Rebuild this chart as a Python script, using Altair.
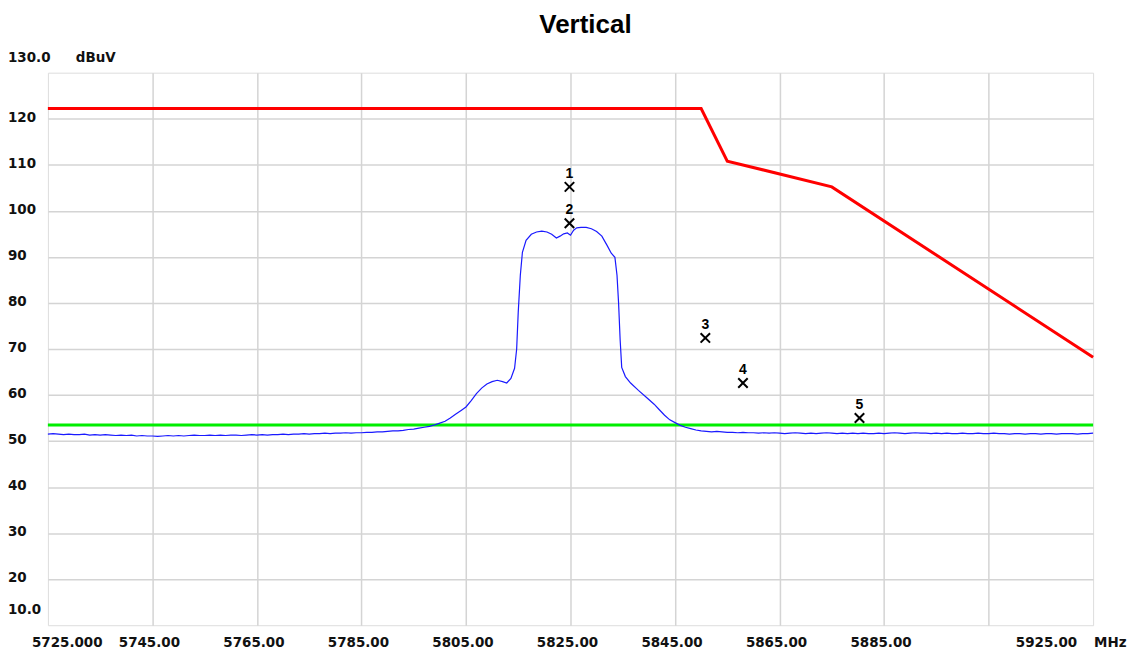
import altair as alt
import pandas as pd

# ---------------- data ----------------
trace_freq = (
    list(range(5725, 5801)) +
    [5801, 5802, 5803, 5804, 5805, 5806, 5807, 5808, 5809, 5810, 5811, 5812,
     5812.8, 5813.6, 5814.3, 5814.7, 5815.0, 5815.4, 5815.8, 5816.5, 5817.5,
     5818.5, 5819.5, 5820.5, 5821.4, 5822.3, 5823.0, 5823.7, 5824.4, 5825.0,
     5825.6, 5826.2, 5827.0, 5828.0, 5829.0, 5830.0, 5831.0, 5832.0, 5832.8,
     5833.5, 5833.9, 5834.2, 5834.5, 5834.8, 5835.5, 5836.5, 5838.0, 5839.5,
     5841.0, 5842.0, 5843.0, 5844.0, 5845.0, 5846.0, 5847.0, 5848.0, 5849.0] +
    list(range(5850, 5926))
)
trace_level = (
    [51.5, 51.6, 51.5, 51.4, 51.5, 51.4, 51.4, 51.5, 51.3, 51.4,
     51.3, 51.4, 51.3, 51.2, 51.3, 51.2, 51.3, 51.1, 51.2, 51.1,
     51.1, 51.0, 51.1, 51.2, 51.1, 51.2, 51.1, 51.2, 51.3, 51.2,
     51.2, 51.3, 51.2, 51.3, 51.2, 51.3, 51.3, 51.2, 51.3, 51.4,
     51.3, 51.4, 51.3, 51.4, 51.4, 51.5, 51.4, 51.5, 51.5, 51.6,
     51.5, 51.6, 51.6, 51.7, 51.6, 51.7, 51.7, 51.8, 51.7, 51.8,
     51.8, 51.9, 51.9, 52.0, 52.0, 52.1, 52.2, 52.2, 52.3, 52.5,
     52.6, 52.8, 53.0, 53.2, 53.5, 53.9] +
    [54.3, 55.0, 55.8, 56.6, 57.4, 58.8, 60.3, 61.5, 62.4, 62.9, 63.2, 62.9,
     62.6, 63.6, 65.8, 70.0, 78.0, 86.0, 91.0, 93.6, 94.9,
     95.4, 95.6, 95.4, 94.9, 94.1, 94.5, 95.0, 95.2, 94.7,
     95.8, 96.3, 96.4, 96.4, 96.1, 95.5, 94.5, 92.5, 90.8,
     89.9, 86.0, 80.0, 72.0, 66.0, 64.0, 62.6, 61.0, 59.5,
     58.0, 56.8, 55.6, 54.6, 54.0, 53.4, 53.0, 52.7, 52.4] +
    [52.2, 52.1, 52.0, 52.1, 52.0, 51.9, 51.9, 51.8, 51.9, 51.8,
     51.8, 51.7, 51.8, 51.7, 51.8, 51.7, 51.6, 51.7, 51.8, 51.7,
     51.6, 51.7, 51.6, 51.7, 51.8, 51.7, 51.6, 51.7, 51.6, 51.7,
     51.6, 51.7, 51.6, 51.6, 51.7, 51.6, 51.7, 51.8, 51.7, 51.6,
     51.7, 51.8, 51.7, 51.7, 51.6, 51.7, 51.6, 51.7, 51.6, 51.6,
     51.7, 51.6, 51.6, 51.7, 51.6, 51.6, 51.7, 51.6, 51.6, 51.5,
     51.6, 51.6, 51.5, 51.6, 51.6, 51.5, 51.6, 51.6, 51.5, 51.6,
     51.6, 51.6, 51.5, 51.6, 51.6, 51.7]
)

limit_freq = [5725, 5850, 5855, 5875, 5925]
limit_level = [122.2, 122.2, 110.8, 105.2, 68.2]

avg_limit_level = [53.5]

marker_freq = [5824.8, 5824.8, 5850.8, 5858.0, 5880.3]
marker_level = [105.2, 97.3, 72.4, 62.6, 55.0]
marker_label = ["1", "2", "3", "4", "5"]

x_grid = [5745, 5765, 5785, 5805, 5825, 5845, 5865, 5885, 5905]
y_grid = [20, 30, 40, 50, 60, 70, 80, 90, 100, 110, 120]

x_mid_ticks = [5745, 5765, 5785, 5805, 5825, 5845, 5865, 5885]
x_mid_labels = ["5745.00", "5765.00", "5785.00", "5805.00", "5825.00",
                "5845.00", "5865.00", "5885.00"]
x_first_tick, x_first_label = 5725, "5725.000"
x_last_tick, x_last_label = 5925, "5925.00"
x_unit = "MHz"

y_mid_ticks = [20, 30, 40, 50, 60, 70, 80, 90, 100, 110, 120]
y_mid_labels = ["20", "30", "40", "50", "60", "70", "80", "90", "100", "110", "120"]
y_end_ticks = [10, 130]
y_end_labels = ["10.0", "130.0"]
y_unit = "dBuV"

# ---------------- chart ----------------
W, H = 1048, 554
LF = "DejaVu Sans"
LFS = 13.5

xs = alt.Scale(domain=[5725, 5925], nice=False, zero=False)
ys = alt.Scale(domain=[10, 130], nice=False, zero=False)
xax = alt.Axis(values=x_grid, grid=True, labels=False, ticks=False, domain=False,
               title=None, gridColor="#d4d4d4", gridWidth=1.5)
yax = alt.Axis(values=y_grid, grid=True, labels=False, ticks=False, domain=False,
               title=None, gridColor="#d4d4d4", gridWidth=1.5)
X = alt.X("freq:Q", scale=xs, axis=xax)
Y = alt.Y("level:Q", scale=ys, axis=yax)

trace_df = pd.DataFrame({"freq": trace_freq, "level": trace_level})
limit_df = pd.DataFrame({"freq": limit_freq, "level": limit_level})
avg_df = pd.DataFrame({"level": avg_limit_level})
mk_df = pd.DataFrame({"freq": marker_freq, "level": marker_level, "lab": marker_label})

green = alt.Chart(avg_df).mark_rule(color="#00ee00", strokeWidth=3).encode(y=Y)
blue = alt.Chart(trace_df).mark_line(color="#1a1aff", strokeWidth=1.2).encode(x=X, y=Y)
red = alt.Chart(limit_df).mark_line(color="#ff0000", strokeWidth=3).encode(x=X, y=Y)
marks = alt.Chart(mk_df).mark_point(
    shape="M-1,-1L1,1M-1,1L1,-1", size=90, filled=False, color="black",
    strokeWidth=2, opacity=1
).encode(x=X, y=Y)
mark_txt = alt.Chart(mk_df).mark_text(
    font="Liberation Sans", fontSize=14, fontWeight="bold", color="black",
    baseline="middle", dy=-13
).encode(x=X, y=Y, text="lab:N")

# axis label layers
ymid_df = pd.DataFrame({"level": y_mid_ticks, "t": y_mid_labels})
yend_df = pd.DataFrame({"level": y_end_ticks, "t": y_end_labels})
yunit_df = pd.DataFrame({"level": [130], "t": [y_unit]})
xmid_df = pd.DataFrame({"freq": x_mid_ticks, "t": x_mid_labels})
xfirst_df = pd.DataFrame({"freq": [x_first_tick], "t": [x_first_label]})
xlast_df = pd.DataFrame({"freq": [x_last_tick], "t": [x_last_label]})
xunit_df = pd.DataFrame({"freq": [x_last_tick], "t": [x_unit]})

tstyle = dict(font=LF, fontSize=LFS, fontWeight="bold", color="#111111")
ymid = alt.Chart(ymid_df).mark_text(align="left", baseline="middle", dy=-1, **tstyle).encode(
    x=alt.value(-40), y=Y, text="t:N")
yend = alt.Chart(yend_df).mark_text(align="left", baseline="middle", dy=-15, **tstyle).encode(
    x=alt.value(-40), y=Y, text="t:N")
yunit = alt.Chart(yunit_df).mark_text(align="left", baseline="middle", dy=-15, **tstyle).encode(
    x=alt.value(28), y=Y, text="t:N")
xmid = alt.Chart(xmid_df).mark_text(align="center", baseline="middle", dx=-3, **tstyle).encode(
    x=X, y=alt.value(H + 18), text="t:N")
xfirst = alt.Chart(xfirst_df).mark_text(align="left", baseline="middle", dx=-16, **tstyle).encode(
    x=X, y=alt.value(H + 18), text="t:N")
xlast = alt.Chart(xlast_df).mark_text(align="right", baseline="middle", dx=-16, **tstyle).encode(
    x=X, y=alt.value(H + 18), text="t:N")
xunit = alt.Chart(xunit_df).mark_text(align="left", baseline="middle", dx=1, **tstyle).encode(
    x=X, y=alt.value(H + 18), text="t:N")

chart = alt.layer(
    green, blue, red, marks, mark_txt, ymid, yend, yunit, xmid, xfirst, xlast, xunit
).properties(
    width=W, height=H,
    title=alt.TitleParams("Vertical", font="Liberation Sans", fontSize=26,
                          fontWeight="bold", color="black", anchor="middle",
                          dx=15, offset=13),
    autosize=alt.AutoSizeParams(type="none"),
    padding={"left": 40, "top": 64, "right": 36, "bottom": 28},
).configure_view(
    stroke="#8c8c8c", strokeWidth=3
).configure(background="white")

chart.save("out.html", embed_options={"renderer": "svg", "actions": False})
